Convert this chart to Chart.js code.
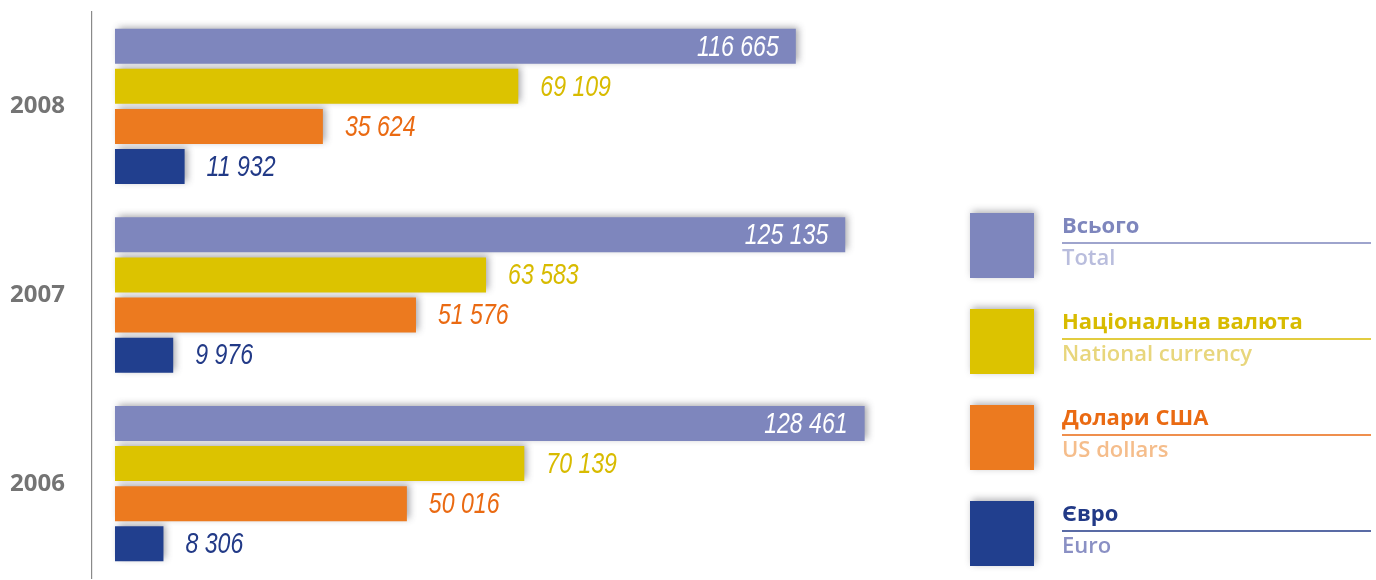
<!DOCTYPE html>
<html>
<head>
<meta charset="utf-8">
<script src="https://cdn.jsdelivr.net/npm/chart.js@4.4.1/dist/chart.umd.min.js"></script>
<style>
  html, body { margin: 0; padding: 0; background: #fff; }
  #wrap { width: 1376px; height: 580px; position: relative; }
</style>
</head>
<body>
<div id="wrap"><canvas id="myChart" width="1376" height="580"></canvas></div>
<script>
// дані
const years = ["2008", "2007", "2006"];
const totalValues = [116665, 125135, 128461];
const nationalValues = [69109, 63583, 70139];
const usdValues = [35624, 51576, 50016];
const euroValues = [11932, 9976, 8306];
const seriesUa = ["Всього", "Національна валюта", "Долари США", "Євро"];
const seriesEn = ["Total", "National currency", "US dollars", "Euro"];

const barColors = ["#7e86bd", "#dcc300", "#ec7a1f", "#213f8e"];
const labelColors = ["#ffffff", "#d8bb00", "#ea6a12", "#223a87"];
const enColors = ["#b9bddd", "#e8d67c", "#f5bd8b", "#8a90c4"];

function fmt(v) {
  return String(v).replace(/\B(?=(\d{3})+(?!\d))/g, " ");
}

// тінь під смугами + підписи значень
const barDecor = {
  id: "barDecor",
  beforeDatasetsDraw(chart) {
    const ctx = chart.ctx;
    ctx.save();
    ctx.shadowColor = "rgba(60,60,70,0.45)";
    ctx.shadowBlur = 7;
    ctx.shadowOffsetX = 3;
    ctx.shadowOffsetY = -2;
  },
  afterDatasetsDraw(chart) {
    const ctx = chart.ctx;
    ctx.restore();
    const sx = 0.77;
    chart.data.datasets.forEach((ds, i) => {
      const meta = chart.getDatasetMeta(i);
      meta.data.forEach((bar, j) => {
        const txt = fmt(ds.data[j]);
        ctx.save();
        ctx.font = "italic 30px 'Liberation Sans', sans-serif";
        ctx.textBaseline = "middle";
        ctx.fillStyle = labelColors[i];
        if (i === 0) {
          ctx.translate(bar.x - 17, bar.y + 1);
          ctx.scale(sx, 1);
          ctx.textAlign = "right";
        } else {
          ctx.translate(bar.x + 22, bar.y + 1);
          ctx.scale(sx, 1);
          ctx.textAlign = "left";
        }
        ctx.fillText(txt, 0, 0);
        ctx.restore();
      });
    });
  }
};

// легенда праворуч
const sideLegend = {
  id: "sideLegend",
  afterDraw(chart) {
    const ctx = chart.ctx;
    ctx.save();
    seriesUa.forEach((name, i) => {
      const top = 213 + i * 96;
      ctx.save();
      ctx.shadowColor = "rgba(60,60,70,0.4)";
      ctx.shadowBlur = 7;
      ctx.shadowOffsetX = 2;
      ctx.shadowOffsetY = -2;
      ctx.fillStyle = barColors[i];
      ctx.fillRect(970, top, 64, 65);
      ctx.restore();

      ctx.textAlign = "left";
      ctx.textBaseline = "middle";
      ctx.font = "bold 22px 'Open Sans', sans-serif";
      ctx.fillStyle = i === 0 ? "#7e86bd" : labelColors[i];
      ctx.fillText(name, 1062, top + 14);

      ctx.strokeStyle = i === 0 ? "#7e86bd" : labelColors[i];
      ctx.lineWidth = 1.5;
      ctx.beginPath();
      ctx.moveTo(1062, top + 30);
      ctx.lineTo(1371, top + 30);
      ctx.stroke();

      ctx.font = "600 22px 'Open Sans', sans-serif";
      ctx.fillStyle = enColors[i];
      ctx.fillText(seriesEn[i], 1062, top + 46);
    });
    ctx.restore();
  }
};

new Chart("myChart", {
  type: "bar",
  data: {
    labels: years,
    datasets: [
      { label: seriesUa[0], data: totalValues, backgroundColor: barColors[0] },
      { label: seriesUa[1], data: nationalValues, backgroundColor: barColors[1] },
      { label: seriesUa[2], data: usdValues, backgroundColor: barColors[2] },
      { label: seriesUa[3], data: euroValues, backgroundColor: barColors[3] },
    ],
  },
  options: {
    indexAxis: "y",
    responsive: false,
    animation: false,
    events: [],
    layout: { padding: { top: 12, bottom: 2, left: 10, right: 409 } },
    datasets: { bar: { categoryPercentage: 0.85, barPercentage: 0.873 } },
    plugins: { legend: { display: false }, tooltip: { enabled: false } },
    scales: {
      x: { display: false, min: -3940, max: 146000 },
      y: {
        grid: { display: false, drawTicks: false },
        border: { display: true, color: "#8a8a8a", width: 1.2 },
        ticks: {
          padding: 0,
          crossAlign: "far",
          color: "#747474",
          font: { family: "'Open Sans', sans-serif", size: 24, weight: "bold", lineHeight: 0.15 },
        },
        afterFit(scale) { scale.width = 82; },
      },
    },
  },
  plugins: [barDecor, sideLegend],
});
</script>
</body>
</html>
